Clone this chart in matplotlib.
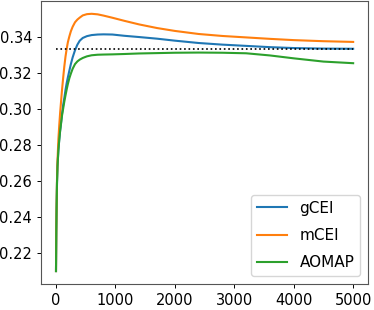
import matplotlib
matplotlib.use("Agg")
import matplotlib.pyplot as plt

# iterations
x = [0, 5, 10, 17, 25, 40, 55, 70, 85, 100, 120, 140, 160, 180, 200, 225, 250,
     280, 320, 360, 400, 450, 520, 600, 700,
     800, 950, 1150, 1400, 1700, 2000, 2400, 2800, 3200, 3600, 4000, 4500, 5000]

gcei = [0.21, 0.232, 0.245, 0.259, 0.268, 0.277, 0.283, 0.288, 0.292, 0.297,
        0.302, 0.306, 0.3105, 0.3143, 0.3175, 0.3212, 0.3248, 0.3285, 0.3325,
        0.3356, 0.3378, 0.3393, 0.3403, 0.3409, 0.3412,
        0.3413, 0.3412, 0.3405, 0.3398, 0.3389, 0.3378, 0.3365, 0.3356, 0.3349,
        0.3342, 0.3337, 0.3334, 0.3333]

mcei = [0.21, 0.233, 0.246, 0.261, 0.271, 0.283, 0.291, 0.298, 0.304, 0.31,
        0.317, 0.3235, 0.329, 0.3333, 0.337, 0.3402, 0.343, 0.3455, 0.348,
        0.3495, 0.3506, 0.3518, 0.3525, 0.3527, 0.3524,
        0.3517, 0.3505, 0.3488, 0.3468, 0.3448, 0.3432, 0.3415, 0.3404, 0.3396,
        0.3388, 0.3381, 0.3375, 0.3371]

aomap = [0.21, 0.232, 0.245, 0.259, 0.268, 0.277, 0.283, 0.288, 0.292, 0.296,
         0.3, 0.304, 0.3075, 0.3108, 0.3138, 0.317, 0.3195, 0.3222, 0.3248,
         0.3263, 0.3273, 0.3282, 0.3291, 0.3297, 0.33,
         0.3301, 0.3302, 0.3304, 0.3307, 0.3309, 0.3311, 0.3312, 0.3311, 0.3308,
         0.3296, 0.328, 0.3262, 0.3253]

ref_x = [0, 5000]
ref_y = [1 / 3, 1 / 3]

plt.rcParams['font.size'] = 10.5

fig = plt.figure(figsize=(3.74, 3.10), dpi=100)
ax = fig.add_axes([0.11, 0.084, 0.874, 0.913])

ax.plot(x, gcei, color="#1f77b4", lw=1.5, label="gCEI")
ax.plot(x, mcei, color="#ff7f0e", lw=1.5, label="mCEI")
ax.plot(x, aomap, color="#2ca02c", lw=1.5, label="AOMAP")
ax.plot(ref_x, ref_y, color="black", ls=":", lw=1.2)

ax.set_xticks([0, 1000, 2000, 3000, 4000, 5000])
ax.set_yticks([0.22, 0.24, 0.26, 0.28, 0.30, 0.32, 0.34])
ax.tick_params(length=3, width=0.7, pad=3.5)
for s in ax.spines.values():
    s.set_color("#555555")

ax.legend(loc="lower right", fontsize=11, labelspacing=0.8)

fig.savefig("out.png", dpi=100)
